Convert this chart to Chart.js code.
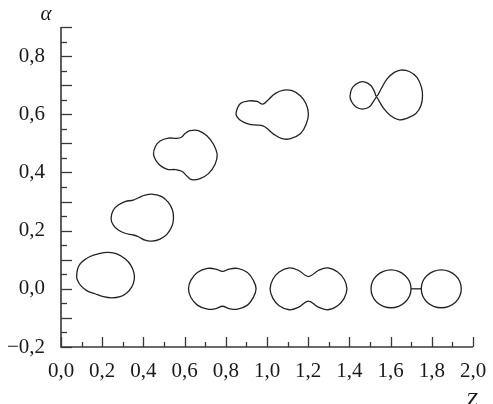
<!DOCTYPE html>
<html>
<head>
<meta charset="utf-8">
<style>
  html, body { margin: 0; padding: 0; background: #ffffff; }
  canvas { display: block; }
</style>
<script src="https://cdn.jsdelivr.net/npm/chart.js@4.4.0/dist/chart.umd.min.js"></script>
</head>
<body>
<canvas id="shapes" width="493" height="404"></canvas>
<script>
// Axis ticks and their labels (decimal comma)
const zTickValues = [0, 0.2, 0.4, 0.6, 0.8, 1.0, 1.2, 1.4, 1.6, 1.8, 2.0];
const zTickLabels = ['0,0', '0,2', '0,4', '0,6', '0,8', '1,0', '1,2', '1,4', '1,6', '1,8', '2,0'];
const alphaTickValues = [-0.2, 0, 0.2, 0.4, 0.6, 0.8];
const alphaTickLabels = ['\u22120,2', '0,0', '0,2', '0,4', '0,6', '0,8'];

// Closed outlines, each as [Z, alpha] points taken around the contour
const shapeA = [[0.076,0.046],[0.083,0.073],[0.101,0.092],[0.141,0.111],[0.190,0.122],[0.230,0.125],[0.271,0.120],[0.311,0.103],[0.340,0.080],[0.355,0.052],[0.355,0.029],[0.343,0.006],[0.319,-0.014],[0.287,-0.027],[0.246,-0.031],[0.206,-0.027],[0.165,-0.017],[0.125,-0.006],[0.096,0.011],[0.079,0.031]];
const shapeB = [[0.243,0.242],[0.254,0.271],[0.278,0.288],[0.311,0.300],[0.351,0.305],[0.376,0.313],[0.408,0.322],[0.448,0.325],[0.489,0.317],[0.521,0.297],[0.541,0.271],[0.546,0.242],[0.538,0.214],[0.514,0.187],[0.481,0.171],[0.441,0.164],[0.408,0.167],[0.376,0.179],[0.351,0.185],[0.311,0.191],[0.278,0.202],[0.254,0.219]];
const shapeC = [[0.449,0.463],[0.459,0.490],[0.481,0.508],[0.521,0.518],[0.562,0.517],[0.586,0.522],[0.602,0.534],[0.627,0.544],[0.667,0.544],[0.708,0.526],[0.740,0.497],[0.758,0.461],[0.748,0.428],[0.716,0.396],[0.675,0.379],[0.635,0.375],[0.611,0.388],[0.586,0.404],[0.554,0.410],[0.521,0.410],[0.489,0.420],[0.462,0.440]];
const shapeD = [[0.850,0.606],[0.871,0.637],[0.912,0.646],[0.952,0.644],[0.980,0.635],[1.009,0.652],[1.041,0.672],[1.082,0.683],[1.122,0.681],[1.163,0.663],[1.190,0.635],[1.201,0.600],[1.190,0.566],[1.163,0.534],[1.114,0.516],[1.074,0.516],[1.033,0.531],[1.001,0.551],[0.980,0.560],[0.952,0.563],[0.912,0.566],[0.876,0.577],[0.855,0.591]];
const shapeE = [[1.403,0.663],[1.415,0.692],[1.448,0.710],[1.480,0.710],[1.505,0.698],[1.521,0.679],[1.532,0.662],[1.553,0.686],[1.582,0.721],[1.618,0.744],[1.650,0.752],[1.691,0.747],[1.728,0.727],[1.750,0.692],[1.755,0.663],[1.747,0.629],[1.723,0.603],[1.682,0.587],[1.642,0.581],[1.602,0.594],[1.569,0.618],[1.545,0.644],[1.532,0.658],[1.517,0.644],[1.496,0.625],[1.464,0.618],[1.432,0.625],[1.410,0.644]];
const shapeF = [[0.619,0],[0.630,0.029],[0.662,0.056],[0.711,0.070],[0.752,0.068],[0.784,0.060],[0.816,0.068],[0.857,0.070],[0.905,0.056],[0.934,0.029],[0.947,0],[0.934,-0.029],[0.905,-0.056],[0.857,-0.070],[0.816,-0.068],[0.784,-0.060],[0.752,-0.068],[0.711,-0.070],[0.662,-0.056],[0.630,-0.029]];
const shapeG = [[1.015,0],[1.028,0.032],[1.059,0.058],[1.108,0.072],[1.154,0.063],[1.201,0.042],[1.249,0.063],[1.295,0.072],[1.343,0.058],[1.375,0.032],[1.388,0],[1.375,-0.032],[1.343,-0.058],[1.295,-0.072],[1.249,-0.063],[1.201,-0.042],[1.154,-0.063],[1.108,-0.072],[1.059,-0.058],[1.028,-0.032]];
const fragmentLeft = [[1.699,0],[1.692,0.025],[1.670,0.046],[1.639,0.060],[1.602,0.065],[1.565,0.060],[1.533,0.046],[1.512,0.025],[1.505,0],[1.512,-0.025],[1.533,-0.046],[1.565,-0.060],[1.602,-0.065],[1.639,-0.060],[1.670,-0.046],[1.692,-0.025]];
const fragmentRight = [[1.943,0],[1.936,0.025],[1.915,0.046],[1.883,0.060],[1.846,0.065],[1.809,0.060],[1.777,0.046],[1.756,0.025],[1.749,0],[1.756,-0.025],[1.777,-0.046],[1.809,-0.060],[1.846,-0.065],[1.883,-0.060],[1.915,-0.046],[1.936,-0.025]];
const neckLink = [[1.699,0],[1.749,0]];

const INK = '#222222';
const AXIS = '#383838';
const TEXT = '#1a1a1a';
const SERIF = "'Liberation Serif', 'Times New Roman', serif";

// A closed contour: wrap one point on each side so the smoothing is
// continuous through the seam, then hide the two wrap segments.
function closedSet(points) {
  const n = points.length;
  const seq = [points[n - 1], ...points, points[0], points[1]];
  const last = seq.length - 1;
  return {
    data: seq.map(p => ({x: p[0], y: p[1]})),
    showLine: true,
    borderColor: INK,
    borderWidth: 1.3,
    tension: 0.4,
    pointRadius: 0,
    pointHoverRadius: 0,
    segment: {
      borderColor: ctx => (ctx.p0DataIndex === 0 || ctx.p1DataIndex === last) ? 'rgba(0,0,0,0)' : INK
    }
  };
}

function openSet(points) {
  return {
    data: points.map(p => ({x: p[0], y: p[1]})),
    showLine: true,
    borderColor: INK,
    borderWidth: 1.3,
    tension: 0,
    pointRadius: 0,
    pointHoverRadius: 0
  };
}

// Axis lines, inward tick marks and axis symbols
const axisFrame = {
  id: 'axisFrame',
  afterDraw(chart) {
    const {ctx, chartArea: a, scales: {x, y}} = chart;
    ctx.save();
    ctx.strokeStyle = AXIS;
    ctx.lineCap = 'butt';
    ctx.lineWidth = 1.3;
    for (let i = -4; i <= 18; i++) {
      const py = Math.round(y.getPixelForValue(i * 0.05)) + 0.5;
      const len = (i % 2 === 0) ? 11 : 6;
      ctx.beginPath();
      ctx.moveTo(a.left, py);
      ctx.lineTo(a.left + len, py);
      ctx.stroke();
    }
    for (let i = 0; i <= 20; i++) {
      const px = Math.round(x.getPixelForValue(i * 0.1)) + 0.5;
      const len = (i % 2 === 0) ? 10 : 5;
      ctx.beginPath();
      ctx.moveTo(px, a.bottom);
      ctx.lineTo(px, a.bottom - len);
      ctx.stroke();
    }
    ctx.lineWidth = 1.6;
    ctx.beginPath();
    ctx.moveTo(a.left, a.top);
    ctx.lineTo(a.left, a.bottom);
    ctx.lineTo(a.right, a.bottom);
    ctx.stroke();

    ctx.fillStyle = TEXT;
    ctx.font = 'italic 21px ' + SERIF;
    ctx.textAlign = 'center';
    ctx.textBaseline = 'alphabetic';
    ctx.fillText('\u03b1', 46, 20);
    ctx.fillText('Z', 471.5, 407);
    ctx.restore();
  }
};

new Chart(document.getElementById('shapes'), {
  type: 'scatter',
  data: {
    datasets: [
      closedSet(shapeA), closedSet(shapeB), closedSet(shapeC), closedSet(shapeD),
      closedSet(shapeE), closedSet(shapeF), closedSet(shapeG),
      closedSet(fragmentLeft), closedSet(fragmentRight), openSet(neckLink)
    ]
  },
  options: {
    responsive: false,
    devicePixelRatio: 1,
    animation: false,
    events: [],
    layout: { padding: { top: 27, right: 20, left: 0, bottom: 0 } },
    plugins: { legend: { display: false }, tooltip: { enabled: false } },
    scales: {
      x: {
        type: 'linear',
        position: 'bottom',
        min: 0, max: 2,
        grid: { display: false },
        border: { display: false },
        afterFit: s => { s.height = 57; },
        afterBuildTicks: s => { s.ticks = zTickValues.map(v => ({value: v})); },
        ticks: {
          autoSkip: false,
          maxRotation: 0,
          padding: 4,
          color: TEXT,
          font: { family: SERIF, size: 21 },
          callback: (v, i) => zTickLabels[i]
        }
      },
      y: {
        type: 'linear',
        position: 'left',
        min: -0.2, max: 0.9,
        grid: { display: false },
        border: { display: false },
        afterFit: s => { s.width = 61; },
        afterBuildTicks: s => { s.ticks = alphaTickValues.map(v => ({value: v})); },
        ticks: {
          autoSkip: false,
          padding: 8,
          color: TEXT,
          font: { family: SERIF, size: 21 },
          callback: (v, i) => alphaTickLabels[i]
        }
      }
    }
  },
  plugins: [axisFrame]
});
</script>
</body>
</html>
